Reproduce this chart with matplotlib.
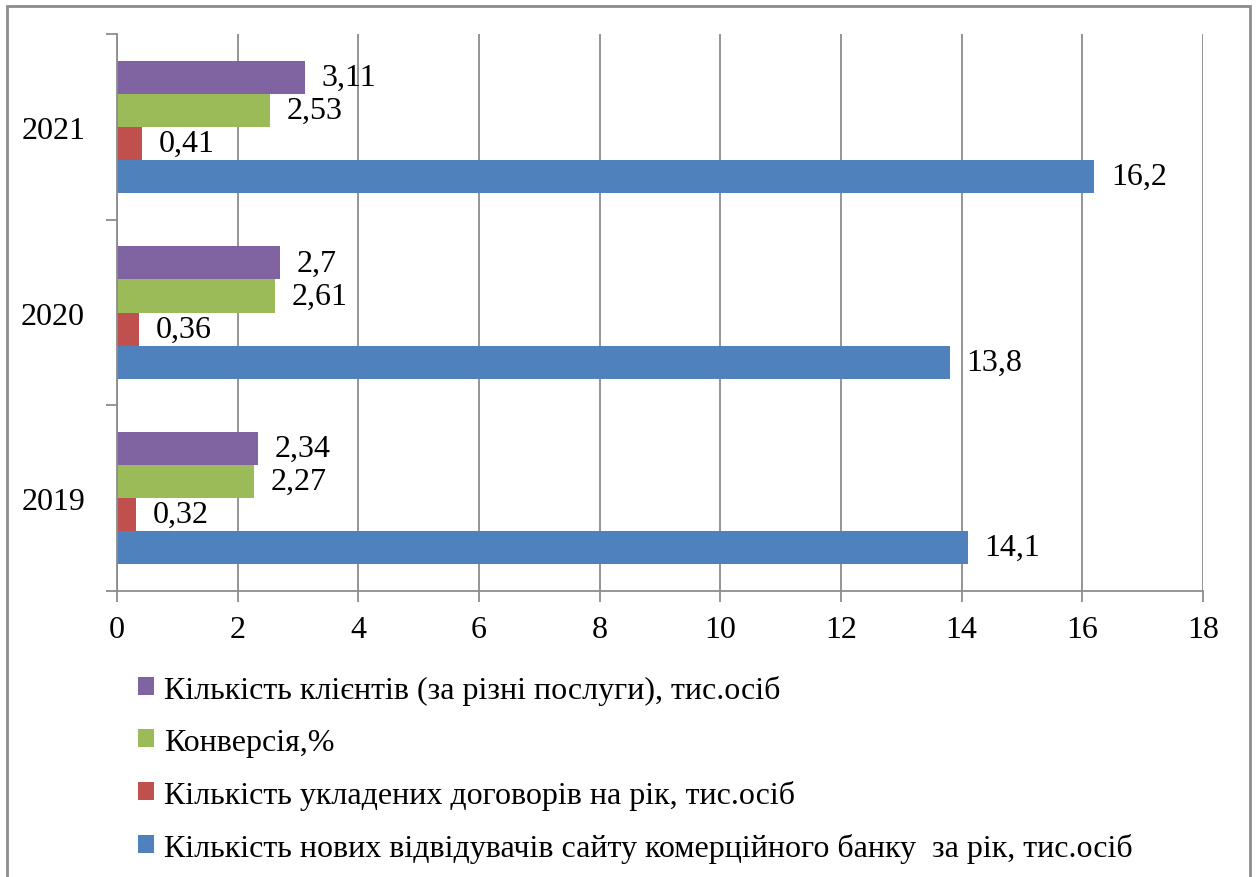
import numpy as np
import matplotlib.pyplot as plt
from matplotlib.patches import Rectangle

plt.rcParams['font.family'] = ['Liberation Serif', 'DejaVu Serif']

years = ["2019", "2020", "2021"]
series_names = [
    "Кількість нових відвідувачів сайту комерційного банку  за рік, тис.осіб",
    "Кількість укладених договорів на рік, тис.осіб",
    "Конверсія,%",
    "Кількість клієнтів (за різні послуги), тис.осіб",
]
visitors = [14.1, 13.8, 16.2]
contracts = [0.32, 0.36, 0.41]
conversion = [2.27, 2.61, 2.53]
clients = [2.34, 2.7, 3.11]
colors = ["#4F81BD", "#C0504D", "#9BBB59", "#8064A2"]

fs = 23

fig = plt.figure(figsize=(12.56, 8.78), dpi=100)
ax = fig.add_axes([0.0932, 0.3257, 0.8646, 0.6344])

# outer frame of the chart area
fig.patches.append(Rectangle((7 / 1256, -0.05), 1243 / 1256, 1.05 - 7 / 878,
                             transform=fig.transFigure, fill=False,
                             edgecolor="#8c8c8c", linewidth=2))

bar_h = 0.178
y = np.arange(len(years))
offsets = (np.arange(4) - 1.5) * bar_h
handles = []
for i, (vals, col) in enumerate(zip([visitors, contracts, conversion, clients], colors)):
    b = ax.barh(y + offsets[i], vals, height=bar_h, color=col, label=series_names[i])
    handles.append(b)
    for yy, v in zip(y + offsets[i], vals):
        ax.annotate(str(v).replace(".", ","), (v, yy), xytext=(12, 0),
                    textcoords="offset points", va="center", ha="left", fontsize=fs)

ax.set_xlim(0, 18)
ax.set_xticks(np.arange(0, 19, 2))
ax.set_ylim(-0.5, 2.5)
ax.set_yticks([-0.5, 0.5, 1.5, 2.5])
ax.set_yticklabels([])
ax.set_yticks(y, minor=True)
ax.set_yticklabels(years, minor=True)
ax.tick_params(axis="y", which="minor", length=0, labelsize=fs, pad=23)
ax.tick_params(axis="y", which="major", length=8, color="#8c8c8c", width=1.3)
ax.tick_params(axis="x", length=8, color="#8c8c8c", width=1.3, labelsize=fs, pad=9)
ax.grid(axis="x", color="#8c8c8c", linewidth=1.3)
ax.set_axisbelow(True)
for s in ["top", "right"]:
    ax.spines[s].set_visible(False)
for s in ["left", "bottom"]:
    ax.spines[s].set_color("#8c8c8c")
    ax.spines[s].set_linewidth(1.3)

fig.legend(handles[::-1], series_names[::-1], loc="upper left",
           bbox_to_anchor=(0.1, 0.245), frameon=False, fontsize=fs,
           handlelength=0.5, handleheight=0.5, handletextpad=0.3,
           labelspacing=0.72, borderaxespad=0)

fig.savefig("out.png", dpi=100)
